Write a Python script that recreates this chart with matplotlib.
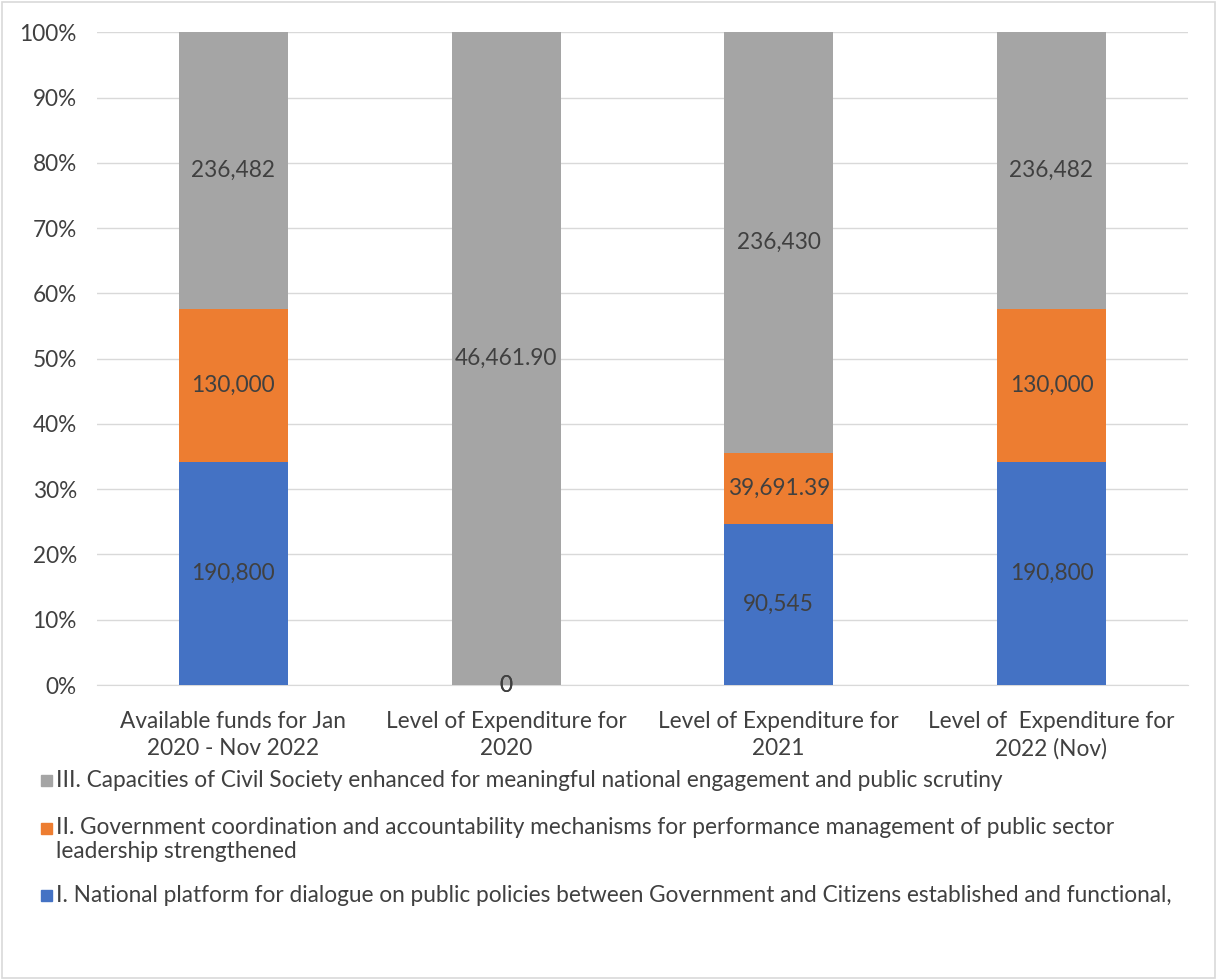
import matplotlib
matplotlib.use("Agg")
import matplotlib.pyplot as plt
import numpy as np
from matplotlib.patches import Rectangle

plt.rcParams["font.family"] = ["Lato", "DejaVu Sans"]

categories = [
    "Available funds for Jan\n2020 - Nov 2022",
    "Level of Expenditure for\n2020",
    "Level of Expenditure for\n2021",
    "Level of  Expenditure for\n2022 (Nov)",
]
series_names = [
    "I. National platform for dialogue on public policies between Government and Citizens established and functional,",
    "II. Government coordination and accountability mechanisms for performance management of public sector\nleadership strengthened",
    "III. Capacities of Civil Society enhanced for meaningful national engagement and public scrutiny",
]
s1 = [190800, 0, 90545, 190800]
s2 = [130000, 0, 39691.39, 130000]
s3 = [236482, 46461.90, 236430, 236482]
s1_labels = ["190,800", "0", "90,545", "190,800"]
s2_labels = ["130,000", "0", "39,691.39", "130,000"]
s3_labels = ["236,482", "46,461.90", "236,430", "236,482"]

colors = ["#4472C4", "#ED7D31", "#A5A5A5"]
text_color = "#404040"
fs = 16.3

fig = plt.figure(figsize=(12.17, 9.8), dpi=100)
ax = fig.add_axes([0.0797, 0.301, 0.8963, 0.666])

data = np.array([s1, s2, s3], dtype=float)
totals = data.sum(axis=0)
shares = data / totals
labels = [s1_labels, s2_labels, s3_labels]
x = np.arange(len(categories))
bottom = np.zeros(len(categories))
for i in range(3):
    ax.bar(x, shares[i], 0.4, bottom=bottom, color=colors[i], zorder=3)
    for j in range(len(categories)):
        ax.text(x[j], bottom[j] + shares[i][j] / 2, labels[i][j],
                ha="center", va="center", fontsize=fs, color=text_color, zorder=4)
    bottom += shares[i]

ax.set_xlim(-0.5, 3.5)
ax.set_ylim(0, 1)
ticks = np.arange(0, 1.01, 0.1)
ax.set_yticks(ticks)
ax.set_yticklabels([f"{int(round(v * 100))}%" for v in ticks])
ax.set_xticks(x)
ax.set_xticklabels(categories, linespacing=1.35)
ax.tick_params(axis="both", length=0, labelsize=fs, colors=text_color)
ax.tick_params(axis="y", pad=14.5)
ax.tick_params(axis="x", pad=19)
ax.grid(axis="y", color="#D9D9D9", linewidth=1, zorder=0)
for s in ["top", "right", "left"]:
    ax.spines[s].set_visible(False)
ax.spines["bottom"].set_color("#D9D9D9")

# legend drawn by hand, reversed order like Excel
legend_y = [780, 828, 895]
for idx, yy in zip([2, 1, 0], legend_y):
    wrapped = "\n" in series_names[idx]
    fig.patches.append(Rectangle((41 / 1217, 1 - (yy + 6) / 980), 11 / 1217, 11 / 980,
                                 transform=fig.transFigure, color=colors[idx]))
    fig.text(56 / 1217, 1 - (yy - 11) / 980 if wrapped else 1 - yy / 980,
             series_names[idx], ha="left", va="top" if wrapped else "center",
             fontsize=fs, color=text_color, linespacing=1.2)

# chart border
fig.patches.append(Rectangle((0.002, 0.002), 0.996, 0.996, transform=fig.transFigure,
                             fill=False, edgecolor="#D9D9D9", linewidth=1.2))

fig.savefig("out.png", dpi=100)
